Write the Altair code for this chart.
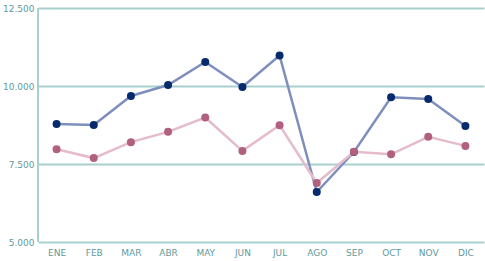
import altair as alt
import pandas as pd

months = ["ENE", "FEB", "MAR", "ABR", "MAY", "JUN", "JUL", "AGO", "SEP", "OCT", "NOV", "DIC"]
serie_a = [8780, 8750, 9680, 10030, 10770, 9970, 10980, 6600, 7885, 9640, 9580, 8720]
serie_b = [7970, 7690, 8200, 8530, 8990, 7920, 8740, 6890, 7890, 7810, 8370, 8080]
series = ["A", "B"]
y_ticks = [5000, 7500, 10000, 12500]

rows = []
for m, a, b in zip(months, serie_a, serie_b):
    rows.append({"mes": m, "serie": series[0], "valor": a})
    rows.append({"mes": m, "serie": series[1], "valor": b})
df = pd.DataFrame(rows)

grid_color = "#a9cfcf"
label_color = "#5f9a9c"

x = alt.X("mes:N", sort=months, scale=alt.Scale(type="point", padding=0.5),
          axis=alt.Axis(title=None, labelFont="DejaVu Sans", labelFontSize=9,
                        labelColor=label_color, ticks=False, domain=False,
                        labelPadding=6, labelAngle=0, labelOverlap=False, grid=False))
y = alt.Y("valor:Q", scale=alt.Scale(domain=[5000, 12500], nice=False, zero=False),
          axis=alt.Axis(title=None, values=y_ticks, labelFont="DejaVu Sans", labelFontSize=9,
                        labelColor=label_color, ticks=False, domain=False, labelPadding=4,
                        grid=True, gridColor=grid_color, gridWidth=2, gridOpacity=1,
                        labelExpr="replace(format(datum.value, ','), ',', '.')"))

line_colors = alt.Scale(domain=series, range=["#7f8fbd", "#e4bccb"])
dot_colors = alt.Scale(domain=series, range=["#062a6c", "#b2607f"])

left_line = alt.Chart(df).mark_rule(color=grid_color, strokeWidth=2).encode(
    x=alt.value(0), y=alt.value(0), y2=alt.value(234))
lines = alt.Chart(df).mark_line(strokeWidth=2.5).encode(
    x=x, y=y, color=alt.Color("serie:N", scale=line_colors, legend=None))
dots = alt.Chart(df).mark_circle(size=64, opacity=1).encode(
    x=x, y=y, color=alt.Color("serie:N", scale=dot_colors, legend=None))

chart = (left_line + lines + dots).resolve_scale(color="independent").properties(
    width=446, height=234,
    autosize=alt.AutoSizeParams(type="none"),
    padding={"left": 38, "top": 8, "right": 1, "bottom": 19},
    background="white",
).configure_view(stroke=None, strokeWidth=0)

chart.save("out.html", embed_options={"renderer": "svg", "actions": False})
